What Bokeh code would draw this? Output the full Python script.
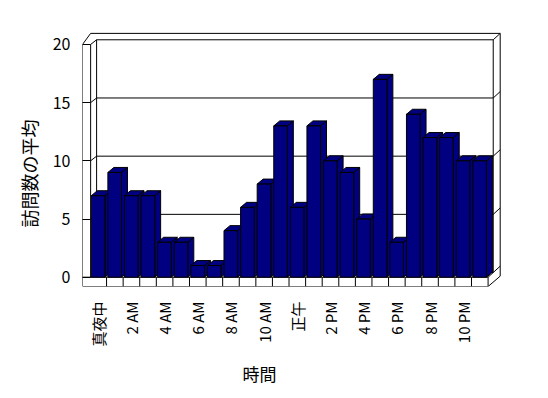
import math
from bokeh.plotting import figure
from bokeh.models import Range1d, FixedTicker, Title
from bokeh.embed import file_html
from bokeh.resources import INLINE

# ---- data ----
hours = list(range(24))
visits = [7, 9, 7, 7, 3, 3, 1, 1, 4, 6, 8, 13, 6, 13, 10, 9, 5, 17, 3, 14, 12, 12, 10, 10]
tick_hours = [0, 2, 4, 6, 8, 10, 12, 14, 16, 18, 20, 22]
tick_labels = ["真夜中", "2 AM", "4 AM", "6 AM", "8 AM", "10 AM",
               "正午", "2 PM", "4 PM", "6 PM", "8 PM", "10 PM"]
y_ticks = [0, 5, 10, 15, 20]
y_title = "訪問数の平均"
x_title = "時間"

# ---- style / geometry (data units) ----
FONT = "Noto Sans CJK JP"
NAVY = "#000080"
N = len(hours)
YMAX = y_ticks[-1]
X0, X1 = -0.45, 25.05
Y0, Y1 = -0.8, 21.37
TICK_END = 0.04
BACK_L, BACK_R, DY = 0.40, N + 0.31, 0.40
SLAB_DX, SLAB_DY = 0.42, 0.55
BAR_L, BAR_R = 0.08, 0.90
BDX, BDY = 0.36, 0.43

p = figure(width=548, height=398, x_range=Range1d(X0, X1), y_range=Range1d(Y0, Y1),
           output_backend="svg", toolbar_location=None,
           min_border_left=82, min_border_right=43, min_border_top=28, min_border_bottom=112)
p.grid.visible = False
p.outline_line_color = None
p.background_fill_color = "white"
p.border_fill_color = "white"

# ---- frame (walls, floor, gridlines) ----
xs, ys = [], []
top_y = YMAX + DY + SLAB_DY
xs.append([X0, X0, TICK_END, BACK_R + SLAB_DX, BACK_R + SLAB_DX, N, X0])
ys.append([Y0, YMAX, top_y, top_y, 0.09, Y0, Y0])
for v in y_ticks:
    xs.append([TICK_END, BACK_L, BACK_R, BACK_R + SLAB_DX])
    ys.append([v, v + DY, v + DY, v + DY + SLAB_DY])
xs.append([TICK_END, TICK_END]); ys.append([0, YMAX])
xs.append([BACK_L, BACK_L]); ys.append([DY, YMAX + DY])
xs.append([BACK_R, BACK_R]); ys.append([DY, YMAX + DY])
xs.append([X0, N]); ys.append([0, 0])
xs.append([N, N]); ys.append([Y0, 0])
xs.append([N, BACK_R]); ys.append([0, DY])
for h in hours[1:]:
    xs.append([h, h]); ys.append([Y0, 0])
p.multi_line(xs, ys, line_color="black", line_width=1)

# ---- 3D bars ----
side_x, side_y, top_x, top_y2 = [], [], [], []
for h, v in zip(hours, visits):
    r = h + BAR_R
    l = h + BAR_L
    side_x.append([r, r, r + BDX, r + BDX])
    side_y.append([0, v, v + BDY, BDY])
    top_x.append([l, r, r + BDX, l + BDX])
    top_y2.append([v, v, v + BDY, v + BDY])
p.patches(side_x, side_y, fill_color=NAVY, line_color="black", line_width=1)
p.patches(top_x, top_y2, fill_color=NAVY, line_color="black", line_width=1)
p.vbar(x=[h + (BAR_L + BAR_R) / 2 for h in hours], width=BAR_R - BAR_L, top=visits, bottom=0,
       fill_color=NAVY, line_color="black", line_width=1)

# ---- axes ----
ya = p.yaxis[0]
ya.ticker = FixedTicker(ticks=y_ticks)
ya.axis_line_color = None
ya.major_tick_in = 8
ya.major_tick_out = 0
ya.minor_tick_line_color = None
ya.major_label_standoff = 12
ya.major_label_text_font = FONT
ya.major_label_text_font_size = "16px"
ya.major_label_text_color = "black"

yt = Title(text=y_title, align="left", offset=59, standoff=16,
           text_font=FONT, text_font_size="18px", text_font_style="normal",
           text_color="black")
p.add_layout(yt, "left")

xa = p.xaxis[0]
xa.ticker = FixedTicker(ticks=[h + 0.5 for h in tick_hours])
xa.major_label_overrides = {h + 0.5: lab for h, lab in zip(tick_hours, tick_labels)}
xa.major_label_orientation = math.pi / 2
xa.axis_line_color = None
xa.major_tick_line_color = None
xa.major_tick_in = 0
xa.major_tick_out = 0
xa.minor_tick_line_color = None
xa.major_label_standoff = 15
xa.major_label_text_font = FONT
xa.major_label_text_font_size = "15px"
xa.major_label_text_color = "black"

xt = Title(text=x_title, align="left", offset=160, standoff=18,
           text_font=FONT, text_font_size="17px", text_font_style="normal",
           text_color="black")
p.add_layout(xt, "below")

open("out.html", "w").write(file_html(p, INLINE))
